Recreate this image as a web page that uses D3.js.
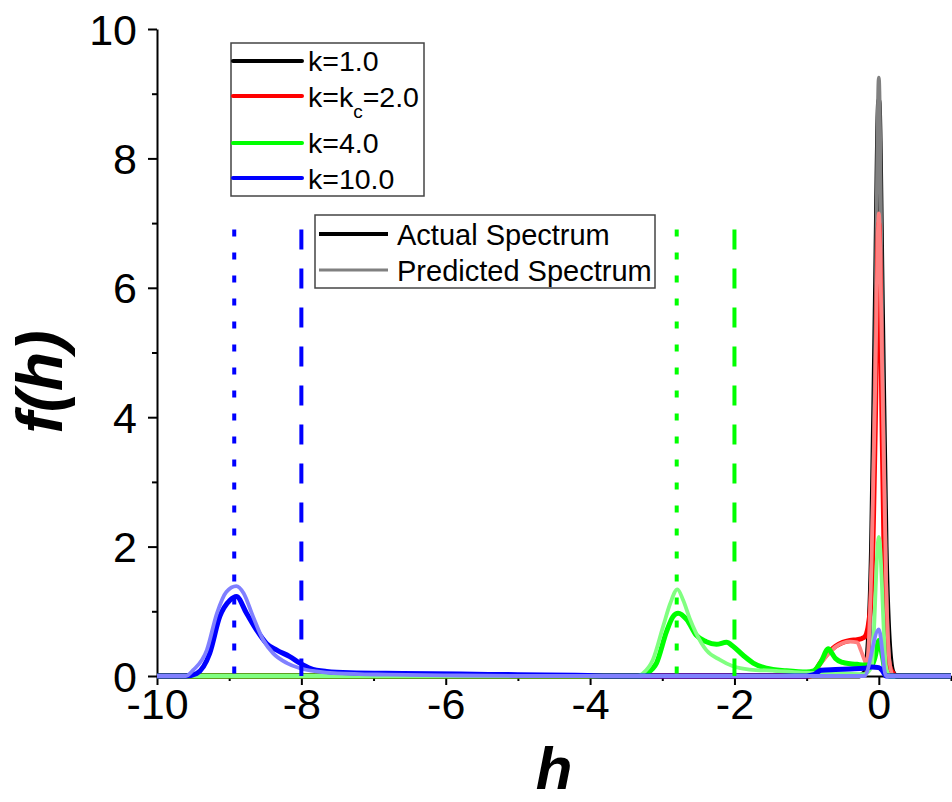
<!DOCTYPE html>
<html>
<head>
<meta charset="utf-8">
<script src="https://cdn.jsdelivr.net/npm/d3@7"></script>
<style>
  html, body { margin: 0; padding: 0; background: #fff; }
  svg { display: block; font-family: Arial, "Liberation Sans", sans-serif; }
</style>
</head>
<body>
<svg id="chart" width="952" height="802"></svg>
<script>
// ---------- data ----------
const xTicksMajor = [-10, -8, -6, -4, -2, 0];
const xTicksMinor = [-9, -7, -5, -3, -1, 1];
const yTicksMajor = [0, 2, 4, 6, 8, 10];
const yTicksMinor = [1, 3, 5, 7, 9];

// k = 1.0
const hK1Actual = [-10, -0.3, -0.2, -0.15, -0.1, -0.05, 0, 0.05, 0.1, 0.15, 0.2, 0.25, 1];
const fK1Actual = [0, 0, 0.05, 0.45, 2.0, 5.6, 8.9, 5.6, 2.0, 0.45, 0.05, 0, 0];
const hK1Pred = [-10, -0.2, -0.15, -0.1, -0.05, 0, 0.05, 0.1, 0.15, 0.2, 1];
const fK1Pred = [0, 0, 0.2, 1.5, 5.0, 9.25, 5.0, 1.5, 0.2, 0, 0];

// k = kc = 2.0
const hK2Actual = [-10, -0.95, -0.9, -0.8, -0.7, -0.6, -0.5, -0.4, -0.3, -0.2, -0.15, -0.1, -0.05, 0, 0.05, 0.1, 0.15, 0.2, 0.25, 1];
const fK2Actual = [0, 0, 0.05, 0.22, 0.36, 0.46, 0.52, 0.55, 0.56, 0.6, 0.75, 1.35, 3.8, 7.0, 3.5, 0.6, 0.15, 0.04, 0, 0];
const hK2Pred = [-10, -0.95, -0.9, -0.8, -0.7, -0.6, -0.5, -0.4, -0.3, -0.25, -0.2, -0.17, -0.1, -0.05, 0, 0.05, 0.1, 0.15, 0.2, 1];
const fK2Pred = [0, 0, 0.05, 0.2, 0.34, 0.45, 0.51, 0.53, 0.52, 0.4, 0.25, 0.18, 1.8, 4.5, 7.15, 4.5, 1.5, 0.2, 0, 0];

// k = 4.0
const hK4Actual = [-10, -3.3, -3.22, -3.08, -2.94, -2.85, -2.78, -2.66, -2.53, -2.39, -2.25, -2.11, -2.02, -1.88, -1.74, -1.56, -1.28, -1.0, -0.9, -0.8, -0.7, -0.65, -0.6, -0.5, -0.4, -0.3, -0.2, -0.1, -0.05, 0, 0.05, 0.1, 0.15, 1];
const fK4Actual = [0, 0, 0.04, 0.2, 0.69, 0.92, 0.97, 0.87, 0.63, 0.53, 0.49, 0.52, 0.46, 0.32, 0.2, 0.12, 0.08, 0.06, 0.08, 0.22, 0.42, 0.35, 0.27, 0.21, 0.19, 0.18, 0.17, 0.17, 0.3, 0.55, 0.3, 0.02, 0, 0];
const hK4Pred = [-10, -3.35, -3.27, -3.13, -2.99, -2.89, -2.79, -2.71, -2.62, -2.53, -2.39, -2.2, -2.02, -1.79, -1.42, -1.0, -0.6, -0.2, -0.1, 0, 0.1, 0.15, 1];
const fK4Pred = [0, 0, 0.04, 0.25, 0.76, 1.12, 1.34, 1.17, 0.89, 0.66, 0.4, 0.25, 0.15, 0.1, 0.08, 0.05, 0.04, 0.03, 0.14, 2.15, 0.14, 0, 0];

// k = 10.0
const hK10Actual = [-10, -9.6, -9.45, -9.27, -9.13, -8.99, -8.9, -8.76, -8.62, -8.48, -8.34, -8.16, -8.02, -7.88, -7.65, -7.33, -6.6, -5.8, -5.0, -4.2, -3.5, -1.0, -0.9, -0.8, -0.6, -0.4, -0.2, -0.1, 0, 0.05, 0.1, 1];
const fK10Actual = [0, 0, 0.04, 0.35, 0.92, 1.17, 1.23, 0.97, 0.71, 0.5, 0.4, 0.3, 0.2, 0.12, 0.07, 0.05, 0.04, 0.03, 0.02, 0.01, 0, 0, 0.02, 0.09, 0.1, 0.11, 0.12, 0.14, 0.13, 0.08, 0, 0];
const hK10Pred = [-10, -9.6, -9.5, -9.31, -9.17, -9.04, -8.9, -8.8, -8.67, -8.53, -8.39, -8.2, -8.02, -7.79, -7.5, -6.8, -6.0, -5.0, -0.2, 0, 0.1, 1];
const fK10Pred = [0, 0, 0.09, 0.4, 0.97, 1.3, 1.39, 1.28, 0.92, 0.56, 0.35, 0.2, 0.12, 0.07, 0.04, 0.02, 0.01, 0, 0, 0.72, 0, 0];

// reference vertical markers
const markerH = [-8.93, -8.0, -2.8, -2.0];
const markerTop = 6.9;

// legend labels
const kLabels = ["k=1.0", "k=k|c|=2.0", "k=4.0", "k=10.0"];
const typeLabels = ["Actual Spectrum", "Predicted Spectrum"];

// ---------- drawing ----------
const colors = ["#000000", "#ff0000", "#00ff00", "#0000ff"];
const lightColors = ["#808080", "#ff8080", "#80ff80", "#8080ff"];
const svg = d3.select("#chart");

const x = d3.scaleLinear().domain([-10, 1]).range([157, 951]);
const y = d3.scaleLinear().domain([0, 10]).range([676, 29]);
const fmt = d => String(d);

// axes
const gx = svg.append("g").attr("transform", `translate(0,${y(0)})`);
gx.call(d3.axisBottom(x).tickValues(xTicksMajor).tickSize(9).tickSizeOuter(0).tickFormat(fmt));
gx.append("g").call(d3.axisBottom(x).tickValues(xTicksMinor).tickSize(5).tickSizeOuter(0).tickFormat(""))
  .select(".domain").remove();
const gy = svg.append("g").attr("transform", `translate(${x(-10)},0)`);
gy.call(d3.axisLeft(y).tickValues(yTicksMajor).tickSize(9).tickSizeOuter(0).tickFormat(fmt));
gy.append("g").call(d3.axisLeft(y).tickValues(yTicksMinor).tickSize(5).tickSizeOuter(0).tickFormat(""))
  .select(".domain").remove();

svg.selectAll(".domain").attr("stroke", "#000").attr("stroke-width", 2);
svg.selectAll(".tick line").attr("stroke", "#000").attr("stroke-width", 2);
gx.selectAll(".tick text").attr("font-size", 43).attr("font-family", "Arial, 'Liberation Sans', sans-serif")
  .attr("fill", "#000").attr("dy", "0.75em").attr("y", 11);
gy.selectAll(".tick text").attr("font-size", 43).attr("font-family", "Arial, 'Liberation Sans', sans-serif")
  .attr("fill", "#000").attr("x", -20).attr("dy", "0.35em");

// axis titles
svg.append("text").attr("x", 554).attr("y", 789).attr("text-anchor", "middle")
  .attr("font-size", 60).attr("font-weight", "bold").attr("font-style", "italic").text("h");
svg.append("text").attr("transform", "translate(62,382) rotate(-90)").attr("text-anchor", "middle")
  .attr("font-size", 64).attr("font-weight", "bold").attr("font-style", "italic").text("f(h)");

// curves
const series = [
  [hK1Actual, fK1Actual, 0, false], [hK1Pred, fK1Pred, 0, true],
  [hK2Actual, fK2Actual, 1, false], [hK2Pred, fK2Pred, 1, true],
  [hK4Actual, fK4Actual, 2, false], [hK4Pred, fK4Pred, 2, true],
  [hK10Actual, fK10Actual, 3, false], [hK10Pred, fK10Pred, 3, true]
];
const line = d3.line().x(d => x(d[0])).y(d => y(d[1])).curve(d3.curveMonotoneX);
series.forEach(([hs, fs, ci, pred]) => {
  const pts = hs.map((h, i) => [h, fs[i]]);
  svg.append("path").datum(pts).attr("d", line)
    .attr("fill", "none").attr("stroke", pred ? lightColors[ci] : colors[ci])
    .attr("stroke-width", pred ? 3.8 : 5)
    .attr("stroke-linejoin", "round");
});

// vertical markers
const markerColor = [3, 3, 2, 2];
const markerDash = ["7,16", "20,19", "7,16", "20,19"];
markerH.forEach((h, i) => {
  svg.append("line").attr("x1", x(h)).attr("x2", x(h)).attr("y1", y(markerTop)).attr("y2", y(0))
    .attr("stroke", colors[markerColor[i]]).attr("stroke-width", 4)
    .attr("stroke-dasharray", markerDash[i]);
});

// legend 1
const lg1 = svg.append("g");
lg1.append("rect").attr("x", 231).attr("y", 43).attr("width", 193).attr("height", 153)
  .attr("fill", "#fff").attr("stroke", "#444").attr("stroke-width", 1.5);
const lineY = [61, 96, 143, 178];
const textY = [71, 107, 153, 189];
kLabels.forEach((lab, i) => {
  lg1.append("line").attr("x1", 233).attr("x2", 302).attr("y1", lineY[i]).attr("y2", lineY[i])
    .attr("stroke", colors[i]).attr("stroke-width", 4).attr("stroke-linecap", "round");
  const t = lg1.append("text").attr("x", 308).attr("y", textY[i]).attr("font-size", 28.5).attr("fill", "#000");
  const parts = lab.split("|");
  if (parts.length === 3) {
    t.append("tspan").text(parts[0]);
    t.append("tspan").attr("font-size", 19).attr("dy", 11).text(parts[1]);
    t.append("tspan").attr("dy", -11).text(parts[2]);
  } else {
    t.text(lab);
  }
});

// legend 2
const lg2 = svg.append("g");
lg2.append("rect").attr("x", 315).attr("y", 215).attr("width", 340).attr("height", 73)
  .attr("fill", "#fff").attr("stroke", "#444").attr("stroke-width", 1.5);
const l2Y = [234, 270];
const l2T = [245, 281];
typeLabels.forEach((lab, i) => {
  lg2.append("line").attr("x1", 319).attr("x2", 388).attr("y1", l2Y[i]).attr("y2", l2Y[i])
    .attr("stroke", i === 0 ? "#000" : "#808080").attr("stroke-width", i === 0 ? 4 : 3);
  lg2.append("text").attr("x", 397).attr("y", l2T[i]).attr("font-size", 29).attr("fill", "#000").text(lab);
});
</script>
</body>
</html>
